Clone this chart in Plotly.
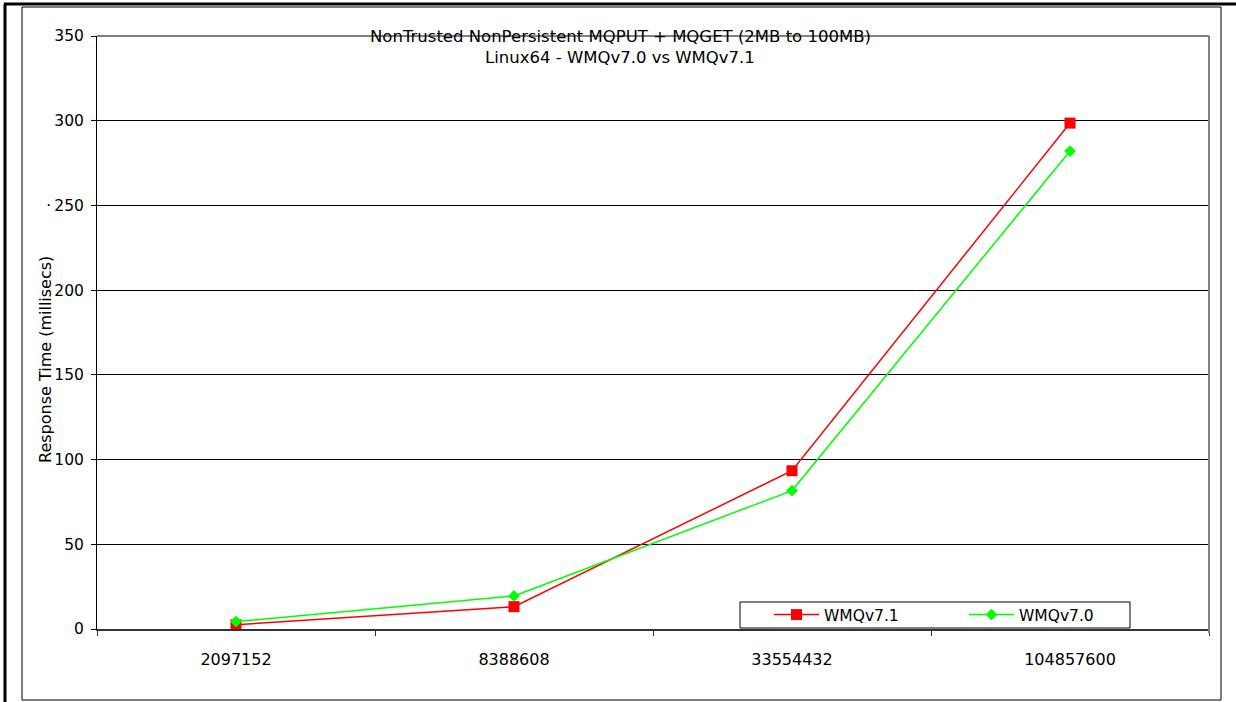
import plotly.graph_objects as go

categories = ["2097152", "8388608", "33554432", "104857600"]
wmq71 = [2.5, 13.2, 93.4, 298.6]
wmq70 = [4.4, 19.5, 81.7, 282.1]
ytick_vals = [0, 50, 100, 150, 200, 250, 300, 350]
ytick_text = ["0", "50", "100", "150", "200", "·\u2009250", "300", "350"]

W, H = 1236, 702
L, R, T, B = 97, 1209, 36, 629
PW, PH = R - L, B - T

def px(x):
    return (x - L) / PW

def py(y):
    return (B - y) / PH

FONT = "DejaVu Sans, Liberation Sans, Arial, sans-serif"

fig = go.Figure()
fig.add_trace(go.Scatter(
    x=categories, y=wmq71, name="WMQv7.1", mode="lines+markers",
    line=dict(color="#FF0000", width=1.5),
    marker=dict(symbol="square", size=11, color="#FF0000"),
))
fig.add_trace(go.Scatter(
    x=categories, y=wmq70, name="WMQv7.0", mode="lines+markers",
    line=dict(color="#00FF00", width=1.5),
    marker=dict(symbol="diamond", size=9, color="#00FF00"),
))

shapes = [
    # outer thick frame (left + top)
    dict(type="line", xref="paper", yref="paper", x0=px(5), x1=px(5), y0=py(720), y1=py(4),
         line=dict(color="black", width=3)),
    dict(type="line", xref="paper", yref="paper", x0=px(4), x1=px(1250), y0=py(4), y1=py(4),
         line=dict(color="black", width=3)),
    # inner frame
    dict(type="rect", xref="paper", yref="paper", x0=px(22), x1=px(1221), y0=py(700), y1=py(7),
         line=dict(color="black", width=1)),
    # plot area border top/right (gray)
    dict(type="line", xref="paper", yref="paper", x0=px(L), x1=px(R), y0=py(T), y1=py(T),
         line=dict(color="#808080", width=2)),
    dict(type="line", xref="paper", yref="paper", x0=px(R), x1=px(R), y0=py(T), y1=py(633),
         line=dict(color="#808080", width=2)),
    # legend box
    dict(type="rect", xref="paper", yref="paper", x0=px(740), x1=px(1130), y0=py(628), y1=py(602),
         line=dict(color="black", width=1), fillcolor="white", layer="above"),
]

annotations = [
    dict(text="NonTrusted NonPersistent MQPUT + MQGET (2MB to 100MB)", xref="paper", yref="paper",
         x=px(620), y=py(37), xanchor="center", yanchor="middle", showarrow=False,
         font=dict(family=FONT, size=16.5, color="black")),
    dict(text="Linux64 - WMQv7.0 vs WMQv7.1", xref="paper", yref="paper",
         x=px(620), y=py(57), xanchor="center", yanchor="middle", showarrow=False,
         font=dict(family=FONT, size=16.5, color="black")),
    dict(text="Response Time (millisecs)", xref="paper", yref="paper",
         x=px(45), y=py(360), xanchor="center", yanchor="middle", showarrow=False,
         textangle=-90, font=dict(family=FONT, size=16, color="black")),
]

fig.update_layout(
    width=W, height=H,
    margin=dict(l=L, r=W - R, t=T, b=H - B, pad=0),
    paper_bgcolor="white", plot_bgcolor="white",
    font=dict(family=FONT, size=15, color="black"),
    showlegend=True,
    legend=dict(
        orientation="h", x=px(769), y=py(598), xanchor="left", yanchor="top",
        bgcolor="rgba(0,0,0,0)", borderwidth=0,
        entrywidth=135, entrywidthmode="pixels",
        font=dict(family=FONT, size=15.5, color="black"),
        itemwidth=45,
    ),
    shapes=shapes,
    annotations=annotations,
    xaxis=dict(
        type="category", range=[-0.5, 3.5], tickson="boundaries",
        ticks="outside", ticklen=5, tickcolor="#333", tickwidth=1,
        showline=True, linecolor="#333", linewidth=1.5,
        showgrid=False, zeroline=False, ticklabelstandoff=15,
        tickfont=dict(family=FONT, size=16, color="black"),
        automargin=False,
    ),
    yaxis=dict(
        range=[0, 350], tickvals=ytick_vals, ticktext=ytick_text,
        ticks="outside", ticklen=5, tickcolor="black", tickwidth=1,
        showline=True, linecolor="black", linewidth=1,
        showgrid=True, gridcolor="#000000", gridwidth=1, zeroline=False,
        tickfont=dict(family=FONT, size=15.5, color="black"),
        ticklabelstandoff=4, automargin=False,
    ),
)

fig.write_html("out.html")
